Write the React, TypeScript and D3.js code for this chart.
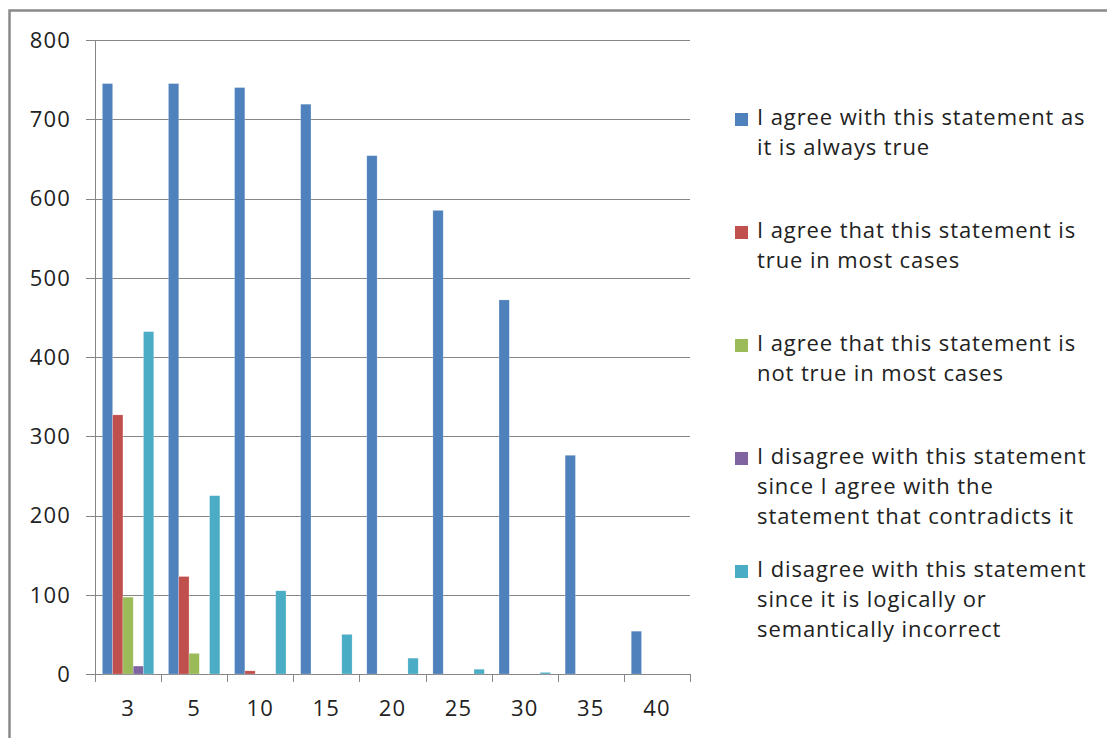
import React from "react";
import * as d3 from "d3";

const categories = ["3", "5", "10", "15", "20", "25", "30", "35", "40"];

const seriesNames = [
  ["I agree with this statement as", "it is always true"],
  ["I agree that this statement is", "true in most cases"],
  ["I agree that this statement is", "not true in most cases"],
  ["I disagree with this statement", "since I agree with the", "statement that contradicts it"],
  ["I disagree with this statement", "since it is logically or", "semantically incorrect"],
];

const alwaysTrue = [745, 745, 740, 719, 654, 585, 472, 276, 54];
const mostlyTrue = [327, 123, 4, 0, 0, 0, 0, 0, 0];
const mostlyNotTrue = [97, 26, 0, 0, 0, 0, 0, 0, 0];
const contradicts = [10, 0, 0, 0, 0, 0, 0, 0, 0];
const incorrect = [432, 225, 105, 50, 20, 6, 2, 0, 0];

const seriesValues = [alwaysTrue, mostlyTrue, mostlyNotTrue, contradicts, incorrect];
const colors = ["#4F81BD", "#C0504D", "#9BBB59", "#8064A2", "#4BACC6"];
const yTicks = [0, 100, 200, 300, 400, 500, 600, 700, 800];

const W = 1107;
const H = 738;
const plot = { left: 95, right: 690, top: 40, bottom: 674 };
const FONT = "'Open Sans', sans-serif";
const FS = 22;
const AXIS = "#868686";

export default function App() {
  const x = d3
    .scaleBand<string>()
    .domain(categories)
    .range([plot.left, plot.right])
    .paddingInner(0)
    .paddingOuter(0);
  const y = d3.scaleLinear().domain([0, 800]).range([plot.bottom, plot.top]);

  const band = x.bandwidth();
  const barW = band / 6.43;
  const groupOffset = (band - barW * 5) / 2;
  const boundaries = d3.range(categories.length + 1).map((i) => plot.left + i * band);

  return (
    <svg
      width={W}
      height={H}
      style={{ position: "absolute", left: 0, top: 0, background: "#fff" }}
      fontFamily={FONT}
    >
      <rect x={0} y={0} width={W} height={H} fill="#fff" />
      {/* chart frame */}
      <path d={`M9.5,${H + 5} V10.5 H${W + 5}`} fill="none" stroke="#8a8a8a" strokeWidth={2.5} />

      {/* horizontal gridlines and y ticks */}
      {yTicks.map((t) => (
        <g key={t}>
          <line x1={plot.left - 9} x2={plot.right} y1={Math.round(y(t)) + 0.5} y2={Math.round(y(t)) + 0.5} stroke={AXIS} strokeWidth={1} />
          <text x={71} y={y(t)} dy="0.36em" textAnchor="end" fontSize={FS} letterSpacing={1.2} fill="#222">
            {t}
          </text>
        </g>
      ))}

      {/* y axis */}
      <line x1={plot.left + 0.5} x2={plot.left + 0.5} y1={plot.top} y2={plot.bottom + 8} stroke={AXIS} />

      {/* x ticks */}
      {boundaries.map((bx, i) => (
        <line key={i} x1={Math.round(bx) + 0.5} x2={Math.round(bx) + 0.5} y1={plot.bottom} y2={plot.bottom + 8} stroke={AXIS} />
      ))}

      {/* bars */}
      {seriesValues.map((vals, s) =>
        vals.map((v, i) =>
          v > 0 ? (
            <rect
              key={`${s}-${i}`}
              x={(x(categories[i]) as number) + groupOffset + s * barW}
              y={y(v)}
              width={barW}
              height={y(0) - y(v)}
              fill={colors[s]}
              stroke="#ffffff"
              strokeOpacity={0.35}
              strokeWidth={0.6}
            />
          ) : null
        )
      )}

      {/* x labels */}
      {categories.map((c) => (
        <text key={c} x={(x(c) as number) + band / 2} y={716} textAnchor="middle" fontSize={FS} letterSpacing={1.2} fill="#222">
          {c}
        </text>
      ))}

      {/* legend */}
      {seriesNames.map((lines, s) => {
        const base = 125 + s * 113;
        return (
          <g key={s}>
            <rect x={735} y={base - 12} width={13} height={13} fill={colors[s]} />
            {lines.map((ln, j) => (
              <text key={j} x={757} y={base + j * 30} fontSize={FS} letterSpacing={0.9} fill="#222">
                {ln}
              </text>
            ))}
          </g>
        );
      })}
    </svg>
  );
}
